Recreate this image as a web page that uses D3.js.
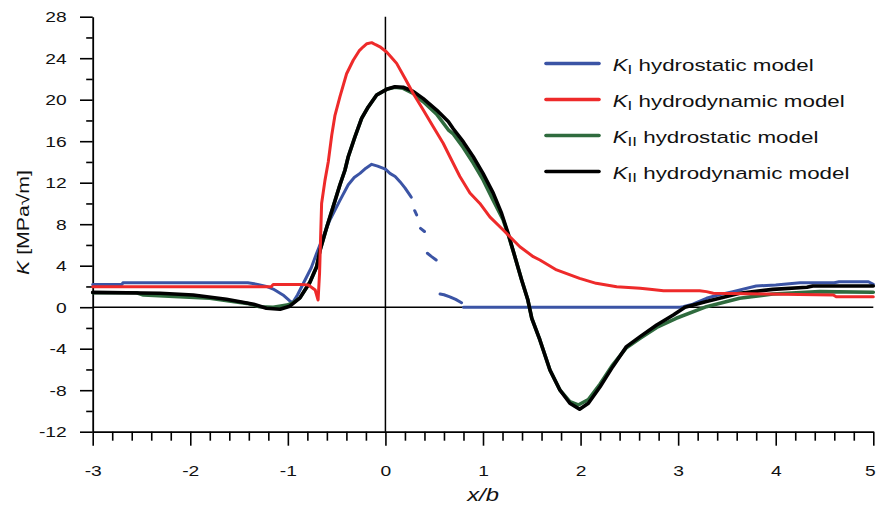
<!DOCTYPE html>
<html><head><meta charset="utf-8">
<script src="https://cdn.jsdelivr.net/npm/d3@7"></script>
<style>html,body{margin:0;padding:0;background:#fff;} svg{display:block;font-family:"Liberation Sans", Arial, sans-serif;} text{white-space:pre;}</style>
</head><body><svg id="chart" width="877" height="506"></svg>
<script>
// ---------- data ----------
const xTicks = [-3, -2, -1, 0, 1, 2, 3, 4, 5];
const yTicks = [-12, -8, -4, 0, 4, 8, 12, 16, 20, 24, 28];

// K_I hydrostatic model (null = gap in the curve)
const kIStaticX = [-3, -2.7, -2.69, -1.41, -1.31, -1.22, -1.15, -1.05, -0.98, -0.95, -0.9, -0.825, -0.76, -0.705, -0.637, -0.569, -0.466, -0.381, -0.32, -0.261, -0.2, -0.141, -0.08, 0, 0.046, 0.1, 0.149, 0.2, 0.251, 0.265,
  0.28, 0.30, 0.32, 0.34, 0.36, 0.40, 0.415, 0.43, 0.47, 0.52, 0.54, 0.56, 0.6, 0.66, 0.72, 0.78, 0.79,
  0.80, 2.9, 3.02, 3.05, 3.15, 3.29, 3.4, 3.56, 3.8, 4.0, 4.25, 4.6, 4.65, 4.73, 4.95, 5.0];
const kIStaticY = [2.2, 2.2, 2.36, 2.36, 2.2, 2.0, 1.75, 1.18, 0.6, 0.45, 1.2, 2.6, 3.8, 5.2, 6.8, 8.4, 10.3, 11.8, 12.5, 12.9, 13.4, 13.77, 13.6, 13.3, 12.9, 12.6, 12.1, 11.5, 10.8, 10.6,
  null, 9.3, 8.9, null, 7.6, 7.3, null, 5.2, 4.9, 4.55, null, 1.27, 1.2, 1.0, 0.75, 0.43, null,
  0, 0, 0, 0.05, 0.3, 0.86, 1.15, 1.5, 2.04, 2.15, 2.36, 2.36, 2.46, 2.46, 2.45, 2.2];

// K_I hydrodynamic model
const kIDynX = [-3, -1.17, -1.15, -0.88, -0.79, -0.72, -0.69, -0.675, -0.654, -0.62, -0.586, -0.55, -0.517, -0.466, -0.398, -0.33, -0.27, -0.227, -0.19, -0.141, -0.1, -0.056, 0.012, 0.06, 0.115, 0.2, 0.285, 0.388, 0.49, 0.592, 0.661, 0.763, 0.866, 0.968, 1.07, 1.207, 1.378, 1.515, 1.583, 1.754, 1.99, 2.16, 2.37, 2.61, 2.71, 2.85, 3.22, 3.29, 3.36, 3.9, 4.59, 4.62, 5.0];
const kIDynY = [1.98, 1.98, 2.2, 2.2, 2.14, 1.66, 0.69, 3.3, 10.0, 12.2, 14.0, 16.6, 18.5, 20.3, 22.5, 23.8, 24.7, 25.1, 25.4, 25.5, 25.3, 25.1, 24.6, 24.1, 23.5, 22.06, 20.6, 19.0, 17.4, 15.8, 14.5, 12.6, 11.0, 10.0, 8.7, 7.44, 5.83, 4.87, 4.55, 3.59, 2.78, 2.3, 1.98, 1.82, 1.72, 1.59, 1.59, 1.5, 1.34, 1.27, 1.18, 1.01, 1.01];

// K_II hydrostatic model
const kIIStaticX = [-3, -2.55, -2.48, -1.8, -1.42, -1.29, -1.15, -1.01, -0.95, -0.876, -0.774, -0.705, -0.67, -0.6, -0.535, -0.466, -0.415, -0.381, -0.313, -0.244, -0.176, -0.09, 0.012, 0.097, 0.182, 0.285, 0.388, 0.525, 0.644, 0.695, 0.797, 0.9, 1.0, 1.105, 1.207, 1.258, 1.327, 1.396, 1.46, 1.5, 1.583, 1.686, 1.788, 1.89, 1.976, 2.08, 2.2, 2.33, 2.47, 2.61, 2.78, 2.98, 3.29, 3.63, 3.97, 4.45, 5.0];
const kIIStaticY = [1.4, 1.4, 1.18, 0.86, 0.37, 0.05, 0.0, 0.2, 0.4, 0.9, 2.4, 3.9, 5.5, 7.76, 9.7, 11.8, 13.2, 14.5, 16.4, 18.2, 19.3, 20.45, 21.0, 21.2, 21.1, 20.6, 19.8, 18.6, 17.1, 16.7, 15.4, 13.9, 12.3, 10.3, 8.4, 7.0, 4.87, 2.62, 0.69, -1.07, -3.16, -6.05, -7.98, -9.1, -9.43, -8.9, -7.4, -5.55, -3.9, -3.0, -1.95, -1.07, 0.05, 0.86, 1.27, 1.5, 1.44];

// K_II hydrodynamic model
const kIIDynX = [-3, -2.31, -1.97, -1.63, -1.35, -1.22, -1.08, -0.98, -0.876, -0.774, -0.705, -0.67, -0.6, -0.535, -0.466, -0.415, -0.381, -0.313, -0.244, -0.176, -0.09, 0.012, 0.097, 0.182, 0.285, 0.388, 0.525, 0.644, 0.695, 0.797, 0.9, 1.0, 1.105, 1.19, 1.258, 1.327, 1.396, 1.46, 1.5, 1.583, 1.686, 1.788, 1.89, 1.99, 2.08, 2.2, 2.33, 2.47, 2.61, 2.78, 2.95, 3.07, 3.29, 3.63, 3.97, 4.32, 4.38, 5.0];
const kIIDynY = [1.43, 1.34, 1.18, 0.76, 0.28, -0.1, -0.2, 0.1, 0.9, 2.4, 3.9, 5.5, 7.76, 9.7, 11.8, 13.2, 14.5, 16.4, 18.2, 19.3, 20.45, 21.0, 21.25, 21.2, 20.8, 20.1, 19.0, 17.9, 17.2, 15.95, 14.5, 12.9, 11.0, 9.05, 7.1, 4.87, 2.62, 0.69, -1.07, -3.16, -6.05, -7.98, -9.26, -9.84, -9.26, -7.66, -5.73, -3.8, -2.84, -1.72, -0.75, 0.0, 0.55, 1.34, 1.72, 1.92, 2.04, 2.04];

const seriesNames = ["hydrostatic model", "hydrodynamic model", "hydrostatic model", "hydrodynamic model"];
const seriesSubs = ["I", "I", "II", "II"];
const seriesColors = ["#3B54A5", "#EE2A2A", "#2F6B3E", "#000000"];

// ---------- chart ----------
const SX = 1.25;   // wide glyphs as in the reference
const SXL = 1.3;   // legend glyph stretch
const svg = d3.select("#chart");
const x = d3.scaleLinear().domain([-3, 5]).range([92.7, 873.3]);
const y = d3.scaleLinear().domain([-12, 28]).range([431.7, 16.7]);

const zip = (xs, ys) => xs.map((v, i) => [v, ys[i]]);
const series = [
  zip(kIStaticX, kIStaticY),
  zip(kIDynX, kIDynY),
  zip(kIIStaticX, kIIStaticY),
  zip(kIIDynX, kIIDynY)
];
const widths = [3, 3, 3.6, 3.6];

// minor ticks
const yMinor = d3.range(-12, 29, 2).filter(v => v % 4 !== 0);
const xMinor = d3.range(-15, 26).filter(i => i % 5 !== 0).map(i => i / 5);

svg.append("g").attr("transform", `translate(${x(-3)},0)`)
  .call(d3.axisLeft(y).tickValues(yMinor).tickSize(6.5).tickSizeOuter(0).tickFormat(""))
  .call(g => g.select(".domain").remove())
  .call(g => g.selectAll("line").attr("stroke-width", 1.6));
svg.append("g").attr("transform", `translate(0,${y(-12)})`)
  .call(d3.axisBottom(x).tickValues(xMinor).tickSize(9).tickSizeOuter(0).tickFormat(""))
  .call(g => g.select(".domain").remove())
  .call(g => g.selectAll("line").attr("stroke-width", 1.6));

// zero reference lines
svg.append("line").attr("x1", x(0)).attr("x2", x(0)).attr("y1", y(28)).attr("y2", y(-12))
  .attr("stroke", "#000").attr("stroke-width", 1.5);
svg.append("line").attr("x1", x(-3)).attr("x2", x(5)).attr("y1", y(0)).attr("y2", y(0))
  .attr("stroke", "#000").attr("stroke-width", 1.5);

// major axes
const yAx = svg.append("g").attr("transform", `translate(${x(-3)},0)`)
  .call(d3.axisLeft(y).tickValues(yTicks).tickSize(12.7).tickSizeOuter(0).tickFormat(d => String(d)));
yAx.selectAll(".tick text").attr("x", -26 / SX).attr("transform", `scale(${SX},1)`)
  .style("font-size", "15.4px").attr("fill", "#111");
const xAx = svg.append("g").attr("transform", `translate(0,${y(-12)})`)
  .call(d3.axisBottom(x).tickValues(xTicks).tickSize(14).tickSizeOuter(0).tickFormat(d => String(d)));
xAx.selectAll(".tick text").attr("y", 44.3).attr("dy", 0)
  .attr("x", d => (d === 5 ? -3.5 : 0) / SX)
  .attr("transform", `scale(${SX},1)`)
  .style("font-size", "15.4px").attr("fill", "#111");
[yAx, xAx].forEach(a => {
  a.select(".domain").attr("stroke-width", 1.8);
  a.selectAll(".tick line").attr("stroke-width", 1.6);
  a.attr("font-family", null);
});

// data lines
const line = d3.line().defined(d => d[1] !== null).x(d => x(d[0])).y(d => y(d[1]));
[0, 2, 3, 1].forEach(i => {
  svg.append("path").datum(series[i]).attr("d", line)
    .attr("fill", "none").attr("stroke", seriesColors[i]).attr("stroke-width", widths[i])
    .attr("stroke-linejoin", "round").attr("stroke-linecap", "round");
});

// legend
seriesNames.forEach((name, i) => {
  const ly = 63.5 + i * 36;
  svg.append("line").attr("x1", 546).attr("x2", 599).attr("y1", ly).attr("y2", ly)
    .attr("stroke", seriesColors[i]).attr("stroke-width", 3.6).attr("stroke-linecap", "round");
  const t = svg.append("text").attr("transform", `translate(612.7,${ly + 7.3}) scale(${SXL},1)`)
    .style("font-size", "17.2px").attr("fill", "#111");
  t.append("tspan").style("font-style", "italic").text("K");
  t.append("tspan").attr("dy", 3).style("font-size", "13px").text(seriesSubs[i]);
  t.append("tspan").attr("dy", -3).text(" " + name);
});

// axis titles
const yt = svg.append("text").attr("transform", `translate(28.5,222.5) rotate(-90) scale(${SX},1)`)
  .attr("text-anchor", "middle").style("font-size", "17px").attr("fill", "#111");
yt.append("tspan").style("font-style", "italic").text("K");
yt.append("tspan").text(" [MPa\u221Am]");

svg.append("text").attr("transform", `translate(483,501) scale(${SX},1)`)
  .attr("text-anchor", "middle").style("font-size", "19px").style("font-style", "italic")
  .attr("fill", "#111").text("x/b");
</script>
</body></html>
